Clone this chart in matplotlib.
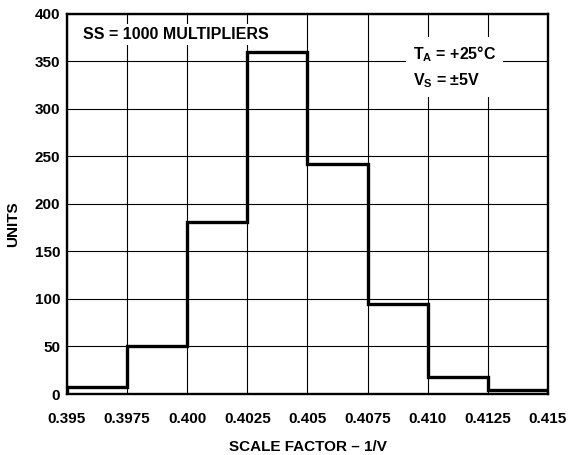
import numpy as np
import matplotlib.pyplot as plt

plt.rcParams['font.family'] = ['Liberation Sans', 'DejaVu Sans']
plt.rcParams['font.weight'] = 'bold'
plt.rcParams['mathtext.fontset'] = 'custom'
plt.rcParams['mathtext.bf'] = 'Liberation Sans:bold'
plt.rcParams['mathtext.rm'] = 'Liberation Sans:bold'

# bin edges (scale factor, 1/V) and counts per bin
bin_edges = [0.395, 0.3975, 0.400, 0.4025, 0.405, 0.4075, 0.410, 0.4125, 0.415]
counts = [7, 50, 181, 360, 242, 95, 18, 4]
x_ticklabels = ['0.395', '0.3975', '0.400', '0.4025', '0.405', '0.4075', '0.410', '0.4125', '0.415']
y_ticks = [0, 50, 100, 150, 200, 250, 300, 350, 400]

fig = plt.figure(figsize=(5.71, 4.55), dpi=100)
ax = fig.add_axes([0.1173, 0.134, 0.8424, 0.836])

ax.stairs(counts, bin_edges, color='black', linewidth=2.4, zorder=3)

ax.set_xlim(bin_edges[0], bin_edges[-1])
ax.set_ylim(0, 400)
ax.set_xticks(bin_edges)
ax.set_xticklabels(x_ticklabels)
ax.set_yticks(y_ticks)
ax.tick_params(length=0, labelsize=11, pad=5)
ax.tick_params(axis='x', pad=13)
ax.grid(True, color='black', linewidth=0.8)
ax.set_axisbelow(True)
for s in ax.spines.values():
    s.set_linewidth(1.7)

ax.set_xlabel('SCALE FACTOR \u2013 1/V', fontsize=11, fontweight='bold', labelpad=10)
ax.set_ylabel('UNITS', fontsize=11, fontweight='bold')
ax.yaxis.set_label_coords(-0.098, 0.447)

ax.text(0.033, 0.965, 'SS = 1000 MULTIPLIERS', transform=ax.transAxes, fontsize=11.5,
        fontweight='bold', va='top', ha='left',
        bbox=dict(facecolor='white', edgecolor='none', pad=2), zorder=4)
ax.text(0.72, 0.86, '$\\mathbf{T_A}$ = +25\u00b0C\n$\\mathbf{V_S}$ = \u00b15V', transform=ax.transAxes,
        fontsize=11.5, fontweight='bold', va='center', ha='left', linespacing=1.55,
        bbox=dict(facecolor='white', edgecolor='none', pad=5), zorder=4)

fig.savefig('out.png', dpi=100)
